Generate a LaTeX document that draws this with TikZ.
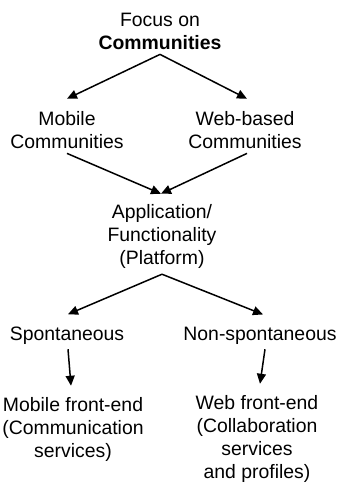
\documentclass[tikz,border=0pt]{standalone}
\usepackage{fontspec}
\setmainfont{Liberation Sans}
\usetikzlibrary{arrows.meta}
\begin{document}
\begin{tikzpicture}[x=1pt,y=-1pt,
  lbl/.style={align=center,anchor=base,inner sep=4pt,
    font=\fontsize{19.4}{23}\selectfont},
  arr/.style={line width=1.5pt,-{Triangle[length=10pt,width=9pt]}}]
\useasboundingbox (0,0) rectangle (342,483);
\node[lbl] (top) at (160,49) {Focus on\\\textbf{Communities}};
\node[lbl] (mob) at (67,148) {Mobile\\Communities};
\node[lbl] (web) at (245,148) {Web-based\\Communities};
\node[lbl] (plat) at (162,264) {Application/\\Functionality\\(Platform)};
\node[lbl] (spon) at (67,340) {Spontaneous};
\node[lbl] (nons) at (260,340) {Non-spontaneous};
\node[lbl] (mfe) at (73,457) {Mobile front-end\\(Communication\\services)};
\node[lbl] (wfe) at (257,478) {Web front-end\\(Collaboration\\services\\and profiles)};
\draw[arr] ([yshift=-1pt]top.south) -- ([yshift=8pt]mob.north);
\draw[arr] ([yshift=-1pt]top.south) -- ([yshift=8pt,xshift=2pt]web.north);
\draw[arr] ([yshift=-1pt]mob.south) -- ([yshift=6pt,xshift=-1pt]plat.north);
\draw[arr] ([yshift=-1pt,xshift=2pt]web.south) -- ([yshift=6pt,xshift=-1pt]plat.north);
\draw[arr] ([yshift=-2pt]plat.south) -- ([yshift=8pt,xshift=1pt]spon.north);
\draw[arr] ([yshift=-2pt]plat.south) -- ([yshift=8pt,xshift=3pt]nons.north);
\draw[arr] ([yshift=-1pt,xshift=1pt]spon.south) -- ([yshift=7pt,xshift=-2pt]mfe.north);
\draw[arr] ([yshift=-1pt,xshift=5pt]nons.south) -- ([yshift=7pt,xshift=3pt]wfe.north);
\end{tikzpicture}
\end{document}
